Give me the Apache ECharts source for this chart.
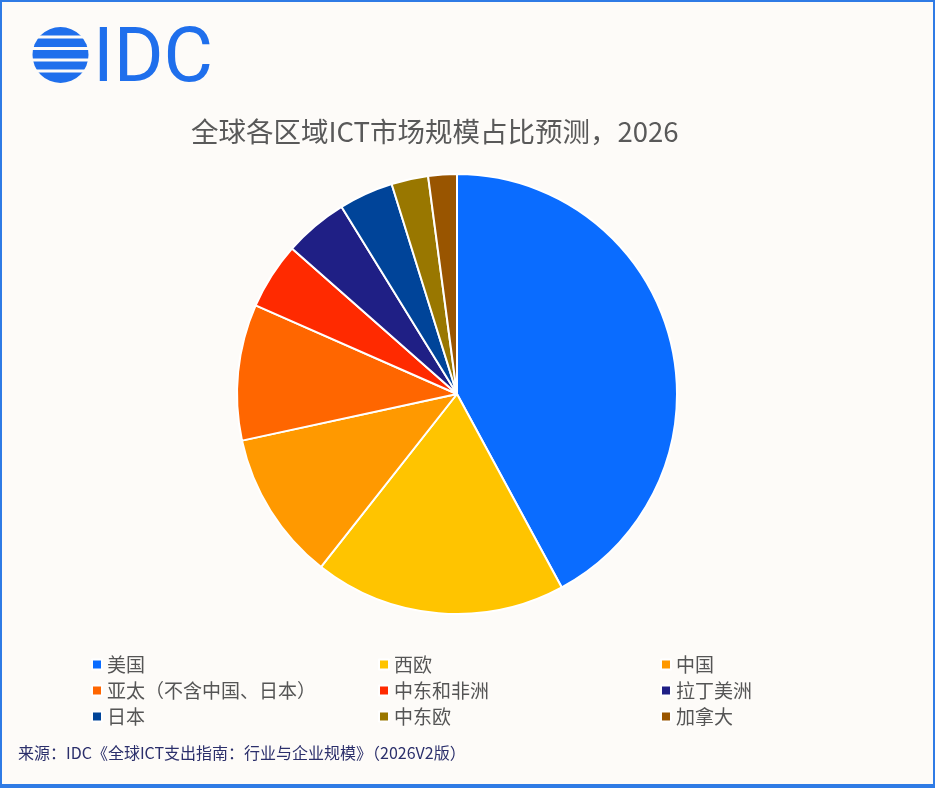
<!DOCTYPE html>
<html>
<head>
<meta charset="utf-8">
<script src="https://cdn.jsdelivr.net/npm/echarts@6/dist/echarts.min.js"></script>
<style>
  html, body { margin: 0; padding: 0; background: #fdfbf8; }
  #chart { width: 935px; height: 788px; }
</style>
</head>
<body>
<div id="chart"></div>
<script>
/* IDC — global ICT market share by region, 2026 */

var regions = ['美国', '西欧', '中国', '亚太（不含中国、日本）', '中东和非洲', '拉丁美洲', '日本', '中东欧', '加拿大'];
var shares = [42.1, 18.5, 11.0, 10.0, 4.9, 4.7, 4.0, 2.7, 2.1];
var colors = ['#0a6cff', '#ffc400', '#ff9900', '#ff6600', '#ff2a00', '#1f1f85', '#004499', '#997700', '#995500'];

// legend laid out in 3 columns, read column-wise
var legendCols = [
  ['美国', '亚太（不含中国、日本）', '日本'],
  ['西欧', '中东和非洲', '中东欧'],
  ['中国', '拉丁美洲', '加拿大']
];
var legendLeft = [86, 373, 655];

var title = '全球各区域ICT市场规模占比预测，2026';
var source = '来源：IDC《全球ICT支出指南：行业与企业规模》（2026V2版）';

var bg = '#fdfbf8';
var logoBlue = '#1f6fec';
var font = '"Noto Sans CJK SC", "Noto Sans", sans-serif';

// IDC logo: blue disc cut by background-coloured gaps
var logoCx = 60.5, logoCy = 55, logoR = 28;
var logoGaps = [37, 48.5, 60, 71];
var logo = [{ type: 'circle', shape: { cx: logoCx, cy: logoCy, r: logoR }, style: { fill: logoBlue } }]
  .concat(logoGaps.map(function(y) {
    return { type: 'rect', shape: { x: logoCx - logoR - 2, y: y - 1.4, width: 2 * logoR + 4, height: 2.8 }, style: { fill: bg } };
  }));
logo.push({
  type: 'text', left: 93, top: 24,
  style: { text: 'IDC', fill: logoBlue, font: '400 76px Roboto, sans-serif' }
});

var graphics = [
  { type: 'rect', shape: { x: 1, y: 1, width: 933, height: 785 }, style: { fill: 'none', stroke: '#2f7be5', lineWidth: 2 } },
  { type: 'rect', shape: { x: 0, y: 784, width: 935, height: 4 }, style: { fill: '#2f7be5' } },
  {
    type: 'text', left: 18, top: 745,
    style: { text: source, fill: '#2b2f6b', font: '16px ' + font }
  }
].concat(logo);

var legends = legendCols.map(function(col, i) {
  return {
    data: col,
    orient: 'vertical',
    left: legendLeft[i],
    top: 649,
    itemWidth: 10,
    itemHeight: 10,
    itemGap: 5,
    icon: 'rect',
    textStyle: { fontSize: 19, color: '#555', fontFamily: font, lineHeight: 21 }
  };
});

var chart = echarts.init(document.getElementById('chart'));
chart.setOption({
  backgroundColor: bg,
  color: colors,
  title: {
    text: title, left: 186, top: 113,
    textStyle: { fontSize: 27.5, fontWeight: 'normal', color: '#595959', fontFamily: font }
  },
  legend: legends,
  graphic: graphics,
  series: [{
    type: 'pie',
    center: [457, 394],
    radius: [0, 220],
    startAngle: 90,
    clockwise: true,
    label: { show: false },
    labelLine: { show: false },
    itemStyle: { borderColor: '#fff', borderWidth: 2 },
    emphasis: { scale: false },
    data: regions.map(function(name, i) { return { name: name, value: shares[i] }; })
  }]
});
</script>
</body>
</html>
